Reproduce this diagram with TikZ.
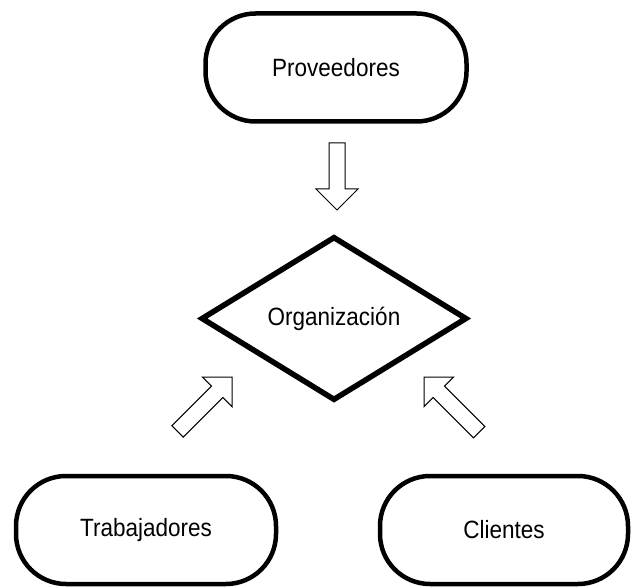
\documentclass[tikz,border=0pt]{standalone}
\usepackage{fontspec}
\setmainfont{Liberation Sans}[FakeStretch=0.9]
\usetikzlibrary{shapes.geometric}
\begin{document}
\begin{tikzpicture}[x=1pt,y=-1pt,
  party/.style={draw, line width=4.5pt, rounded corners=50pt,
    minimum height=108pt, inner sep=0pt, font=\fontsize{25}{29}\selectfont},
  org/.style={draw, diamond, line width=5.5pt, inner sep=0pt,
    minimum width=266pt, minimum height=164pt, font=\fontsize{25}{29}\selectfont},
  blockarrow/.pic={
    \draw[line width=1pt, fill=white]
      (0,0) -- (-21,21) -- (-21,8) -- (-#1,8) -- (-#1,-8)
      -- (-21,-8) -- (-21,-21) -- cycle;
  },
  blockarrow/.default=67]
\useasboundingbox (0,0) rectangle (632,588);

% the four parties
\node[party, minimum width=261pt] (prov) at (336,67.5) {Proveedores};
\node[org] (org) at (334,318.5) {Organización};
\node[party, minimum width=260pt] (trab) at (146,530) {Trabajadores};
\node[party, minimum width=248pt] (cli)  at (504,530) {Clientes};

% tips of the hollow arrows leading into the organisation
\coordinate (tipP) at (337,210);
\coordinate (tipT) at (232,377);
\coordinate (tipC) at (424,377);

\pic[rotate=-90] at (tipP) {blockarrow=67};
\pic[rotate=45]  at (tipT) {blockarrow=77};
\pic[rotate=135] at (tipC) {blockarrow=78};
\end{tikzpicture}
\end{document}
